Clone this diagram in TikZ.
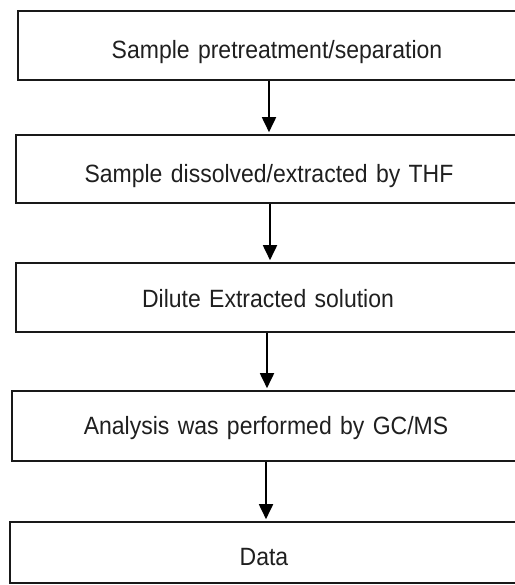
\documentclass[tikz,border=0pt]{standalone}
\usepackage{fontspec}
\setmainfont{Liberation Sans}[FakeStretch=0.92]
\usetikzlibrary{arrows.meta}
\begin{document}
\begin{tikzpicture}[x=1bp,y=-1bp,
  stepbox/.style={draw=black!90, line width=1.6bp, rectangle, inner xsep=0pt, inner ysep=0pt,
    align=center, text=black!88, font=\fontsize{25bp}{30bp}\selectfont},
  flowarrow/.style={draw=black, line width=1.8bp, -{Triangle[width=14bp,length=15bp]}, shorten >=2bp}]
\useasboundingbox (0,0) rectangle (515,585);
\clip (0,0) rectangle (515,585);
\node[stepbox, minimum width=518bp, text width=518bp, text height=48bp, text depth=21bp] (b1) at (277,45.5) {Sample pretreatment/separation};
\node[stepbox, minimum width=506bp, text width=506bp, text height=47bp, text depth=21bp] (b2) at (269,169) {Sample dissolved/extracted by THF};
\node[stepbox, minimum width=504bp, text width=504bp, text height=44bp, text depth=25bp] (b3) at (268,297.5) {Dilute Extracted solution};
\node[stepbox, minimum width=508bp, text width=508bp, text height=43bp, text depth=27bp] (b4) at (266,426) {Analysis was performed by GC/MS};
\node[stepbox, minimum width=508bp, text width=508bp, text height=43bp, text depth=18bp] (b5) at (264,552.5) {Data};
\draw[flowarrow] ([xshift=-8bp]b1.south) -- ([xshift=-8bp]b1.south |- b2.north);
\draw[flowarrow] ([xshift=1bp]b2.south) -- ([xshift=1bp]b2.south |- b3.north);
\draw[flowarrow] ([xshift=-1bp]b3.south) -- ([xshift=-1bp]b3.south |- b4.north);
\draw[flowarrow] (b4.south) -- (b4.south |- b5.north);
\end{tikzpicture}
\end{document}
